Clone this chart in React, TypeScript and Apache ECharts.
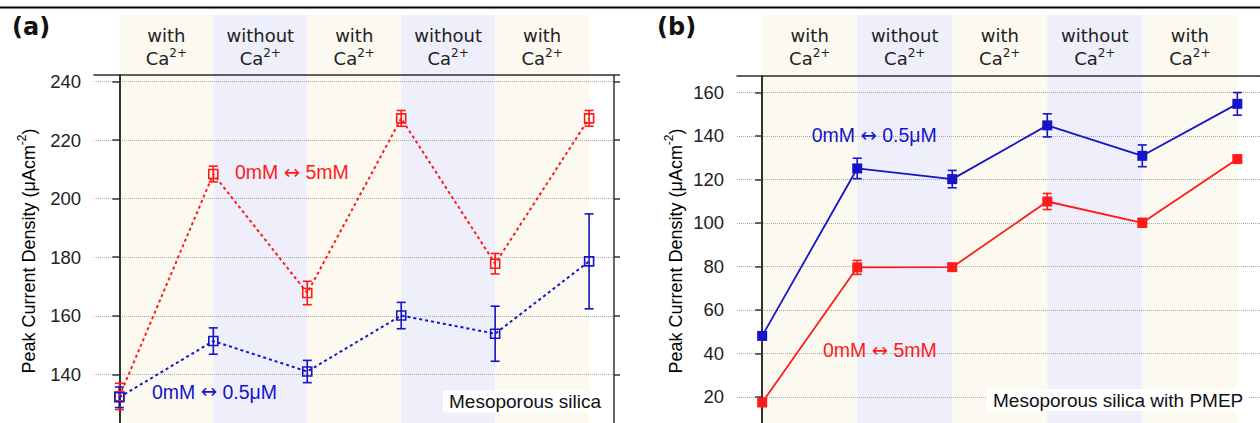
import React, { useEffect, useRef } from "react";
import * as echarts from "echarts";

// ---- data ----
const positions = [0, 1, 2, 3, 4, 5];
const bandKinds = ["with", "without", "with", "without", "with"];

const aRed = [132.5, 208.4, 167.8, 227.4, 177.8, 227.4];
const aRedErr = [4.5, 2.7, 4.0, 2.7, 3.5, 2.7];
const aBlue = [132.2, 151.4, 141.0, 160.1, 153.9, 178.6];
const aBlueErr = [3.5, 4.5, 3.8, 4.5, 9.4, 16.2];

const bBlue = [48.0, 125.0, 120.1, 144.8, 130.8, 154.7];
const bBlueErr = [0.8, 4.7, 4.0, 5.3, 5.0, 5.2];
const bRed = [17.4, 79.5, 79.6, 109.8, 100.0, 129.3];
const bRedErr = [0.8, 3.2, 1.5, 3.7, 2.0, 0.8];

const aYMin = 120;
const aYMax = 242.2;
const bYMin = 0;
const bYMax = 167.5;
const yInterval = 20;
const xMin = -0.27;
const xMax = 5.265;
const xMinB = -0.265;
const xMaxB = 5.27;

const RED = "#ff1a1a";
const BLUE = "#1414c8";
const BEIGE = "#fcf9f1";
const LAV = "#eeeffb";
const AXIS = "#333333";
const TXT = "#222222";

const SANS = "Liberation Sans, Arial, sans-serif";
const DEJ = "DejaVu Sans, Verdana, sans-serif";

const bands = bandKinds.map((k, i) => [positions[i], positions[i + 1], i]);

const headerRich = {
  c: { fontSize: 18, fontFamily: DEJ, lineHeight: 23, color: TXT },
  s: { fontSize: 12, fontFamily: DEJ, lineHeight: 12, verticalAlign: "top", color: TXT },
};

function bandSeries(xi: number, yi: number) {
  return {
    type: "custom",
    xAxisIndex: xi,
    yAxisIndex: yi,
    z: 1,
    silent: true,
    data: bands,
    renderItem: (params: any, api: any) => {
      const s = api.value(0);
      const e = api.value(1);
      const kind = bandKinds[params.dataIndex];
      const p0 = api.coord([s, 1]);
      const p1 = api.coord([e, 0]);
      return {
        type: "group",
        children: [
          {
            type: "rect",
            shape: { x: p0[0], y: p0[1], width: p1[0] - p0[0], height: p1[1] - p0[1] },
            style: { fill: kind === "with" ? BEIGE : LAV },
          },
          {
            type: "text",
            x: (p0[0] + p1[0]) / 2,
            y: p0[1] + 31.5,
            style: {
              text: `{c|${kind}}\n{c|Ca}{s|2+}`,
              rich: headerRich,
              align: "center",
              verticalAlign: "middle",
              fill: TXT,
            },
          },
        ],
      };
    },
  };
}

function errSeries(xi: number, yi: number, vals: number[], errs: number[], color: string) {
  return {
    type: "custom",
    xAxisIndex: xi,
    yAxisIndex: yi,
    z: 3,
    silent: true,
    data: positions.map((x, i) => [x, vals[i] - errs[i], vals[i] + errs[i]]),
    renderItem: (params: any, api: any) => {
      const x = api.value(0);
      const lo = api.coord([x, api.value(1)]);
      const hi = api.coord([x, api.value(2)]);
      const w = 4.5;
      const st = { stroke: color, lineWidth: 1.6 };
      return {
        type: "group",
        children: [
          { type: "line", shape: { x1: lo[0], y1: lo[1], x2: hi[0], y2: hi[1] }, style: st },
          { type: "line", shape: { x1: lo[0] - w, y1: lo[1], x2: lo[0] + w, y2: lo[1] }, style: st },
          { type: "line", shape: { x1: hi[0] - w, y1: hi[1], x2: hi[0] + w, y2: hi[1] }, style: st },
        ],
      };
    },
  };
}

function lineSeries(xi: number, yi: number, vals: number[], color: string, dashed: boolean) {
  return {
    type: "line",
    xAxisIndex: xi,
    yAxisIndex: yi,
    z: 4,
    silent: true,
    data: positions.map((x, i) => [x, vals[i]]),
    symbol: "rect",
    symbolSize: dashed ? 9 : 10,
    itemStyle: dashed
      ? { color: "rgba(255,255,255,0)", borderColor: color, borderWidth: 1.6 }
      : { color: color, borderWidth: 0 },
    lineStyle: { color: color, width: dashed ? 2 : 1.8, type: dashed ? [3, 3] : "solid" },
  };
}

function leftAxis(grid: number, min: number, max: number) {
  return {
    type: "value",
    gridIndex: grid,
    position: "left",
    min,
    max,
    interval: yInterval,
    z: 2,
    axisLine: { show: true, lineStyle: { color: AXIS, width: 2 } },
    axisTick: { show: true, inside: false, length: 7, lineStyle: { color: AXIS, width: 1.5 } },
    axisLabel: {
      show: true,
      margin: 13,
      fontSize: 18.5,
      fontFamily: SANS,
      color: TXT,
      showMaxLabel: false,
      showMinLabel: false,
    },
    splitLine: { show: true, lineStyle: { color: "#a8a8a8", type: "dotted", width: 1 } },
  };
}

function rightAxis(grid: number, min: number, max: number) {
  return {
    type: "value",
    gridIndex: grid,
    position: "right",
    min,
    max,
    interval: yInterval,
    z: 2,
    axisLine: { show: true, lineStyle: { color: AXIS, width: 1.5 } },
    axisTick: { show: true, inside: false, length: 6, lineStyle: { color: AXIS, width: 1.5 } },
    axisLabel: { show: false },
    splitLine: { show: false },
  };
}

function hiddenY(grid: number) {
  return { type: "value", gridIndex: grid, min: 0, max: 1, show: false };
}

function topX(grid: number, min: number, max: number) {
  return {
    type: "value",
    gridIndex: grid,
    position: "top",
    min,
    max,
    z: 2,
    axisLine: { show: true, onZero: false, lineStyle: { color: AXIS, width: 1.5 } },
    axisTick: { show: false },
    axisLabel: { show: false },
    splitLine: { show: false },
  };
}

function hiddenX(grid: number, min: number, max: number) {
  return { type: "value", gridIndex: grid, min, max, show: false };
}

const titleRich = {
  m: { fontSize: 18, fontFamily: SANS, lineHeight: 26, color: TXT },
  s: { fontSize: 12, fontFamily: SANS, lineHeight: 12, verticalAlign: "top", color: TXT },
};

function annot(x: number, y: number, left: string, right: string, color: string) {
  return {
    type: "text",
    x,
    y,
    z: 10,
    style: {
      text: `{t|${left} }{a|↔}{t| ${right}}`,
      rich: {
        t: { fontSize: 19.5, fontFamily: SANS, color },
        a: { fontSize: 19.5, fontFamily: DEJ, color },
      },
      fill: color,
      align: "left",
      verticalAlign: "middle",
    },
  };
}

function boxText(x: number, y: number, text: string) {
  return {
    type: "text",
    x,
    y,
    z: 10,
    style: {
      text,
      fill: "#111",
      font: `19px ${SANS}`,
      align: "left",
      verticalAlign: "middle",
      backgroundColor: "#ffffff",
      padding: [2, 5, 1, 6],
    },
  };
}

export default function App() {
  const ref = useRef<HTMLDivElement>(null);
  useEffect(() => {
    if (!ref.current) return;
    const chart = echarts.init(ref.current, undefined, { renderer: "svg" });
    const option: any = {
      animation: false,
      backgroundColor: "#ffffff",
      grid: [
        { left: 94, top: 75, width: 520, height: (aYMax - aYMin) * 2.93, outerBoundsMode: "none", containLabel: false },
        { left: 94, top: 15, width: 520, height: 430, outerBoundsMode: "none", containLabel: false },
        { left: 737, top: 76, width: 526, height: (bYMax - bYMin) * 2.175, outerBoundsMode: "none", containLabel: false },
        { left: 737, top: 15, width: 526, height: 430, outerBoundsMode: "none", containLabel: false },
      ],
      xAxis: [
        topX(0, xMin, xMax),
        hiddenX(1, xMin, xMax),
        topX(2, xMinB, xMaxB),
        hiddenX(3, xMinB, xMaxB),
      ],
      yAxis: [
        leftAxis(0, aYMin, aYMax),
        rightAxis(0, aYMin, aYMax),
        hiddenY(1),
        leftAxis(2, bYMin, bYMax),
        rightAxis(2, bYMin, bYMax),
        hiddenY(3),
      ],
      series: [
        bandSeries(1, 2),
        bandSeries(3, 5),
        errSeries(0, 0, aRed, aRedErr, RED),
        errSeries(0, 0, aBlue, aBlueErr, BLUE),
        lineSeries(0, 0, aRed, RED, true),
        lineSeries(0, 0, aBlue, BLUE, true),
        errSeries(2, 3, bBlue, bBlueErr, BLUE),
        errSeries(2, 3, bRed, bRedErr, RED),
        lineSeries(2, 3, bBlue, BLUE, false),
        lineSeries(2, 3, bRed, RED, false),
      ],
      graphic: [
        {
          type: "line",
          z: 10,
          shape: { x1: 0, y1: 7.5, x2: 1260, y2: 7.5 },
          style: { stroke: "#000", lineWidth: 2 },
        },
        {
          type: "text",
          x: 12,
          y: 27,
          z: 10,
          style: { text: "(a)", fill: "#111", font: `bold 24px ${DEJ}`, align: "left", verticalAlign: "middle" },
        },
        {
          type: "text",
          x: 657,
          y: 27,
          z: 10,
          style: { text: "(b)", fill: "#111", font: `bold 24px ${DEJ}`, align: "left", verticalAlign: "middle" },
        },
        {
          type: "text",
          x: 29,
          y: 251,
          rotation: Math.PI / 2,
          z: 10,
          style: {
            text: "{m|Peak Current Density (μAcm}{s|-2}{m|)}",
            rich: titleRich,
            align: "center",
            verticalAlign: "middle",
          },
        },
        {
          type: "text",
          x: 676,
          y: 251,
          rotation: Math.PI / 2,
          z: 10,
          style: {
            text: "{m|Peak Current Density (μAcm}{s|-2}{m|)}",
            rich: titleRich,
            align: "center",
            verticalAlign: "middle",
          },
        },
        annot(235, 172.3, "0mM", "5mM", RED),
        annot(152, 391.7, "0mM", "0.5μM", BLUE),
        annot(811.7, 135, "0mM", "0.5μM", BLUE),
        annot(823, 350, "0mM", "5mM", RED),
        boxText(443, 401.5, "Mesoporous silica"),
        boxText(987, 400, "Mesoporous silica with PMEP"),
      ],
    };
    chart.setOption(option);
    return () => chart.dispose();
  }, []);
  return (
    <div
      style={{
        position: "fixed",
        left: 0,
        top: 0,
        width: 1260,
        height: 423,
        overflow: "hidden",
        background: "#fff",
      }}
    >
      <div ref={ref} style={{ width: 1260, height: 445 }} />
    </div>
  );
}
